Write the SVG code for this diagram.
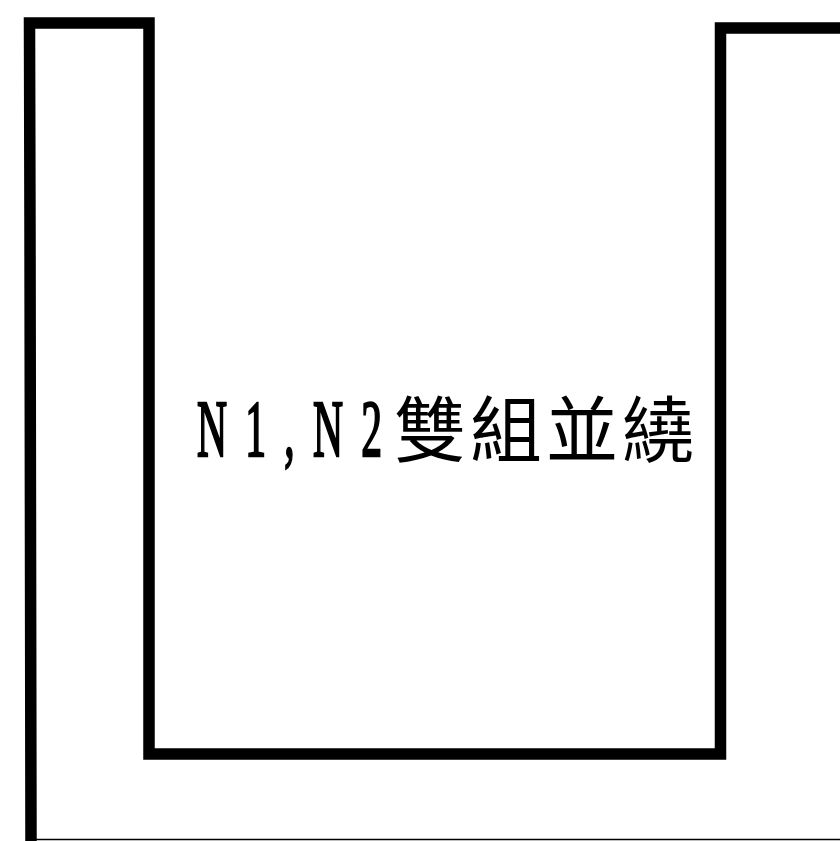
<svg xmlns="http://www.w3.org/2000/svg" width="840" height="841" viewBox="0 0 840 841">
  <style>
    .wall { fill: none; stroke: #000; stroke-width: 11.5; stroke-linejoin: miter; stroke-linecap: square; }
    .thin { fill: none; stroke: #000; stroke-width: 1.5; }
    .lat { font-family: "Liberation Serif", serif; font-size: 80px; fill: #000; stroke: #000; stroke-width: 2.5px; }
    .cjk { font-family: "Noto Sans CJK TC", "Noto Sans CJK SC", sans-serif; font-size: 72px; fill: #000; }
  </style>
  <rect width="840" height="841" fill="#fff"/>
  <g id="connectors">
    <path class="wall" d="M 31 845 L 30 232 L 29.5 23 L 149 23 L 149 754 L 720.5 754 L 720.5 28 L 845 28"/>
    <line class="thin" x1="36" y1="839.5" x2="840" y2="839.5"/>
  </g>
  <g id="label">
    <text class="lat" transform="translate(197,456) scale(0.52,1)" textLength="356" lengthAdjust="spacing">N1,N2</text>
    <text class="cjk" x="394" y="456" textLength="300" lengthAdjust="spacing">雙組並繞</text>
  </g>
</svg>
